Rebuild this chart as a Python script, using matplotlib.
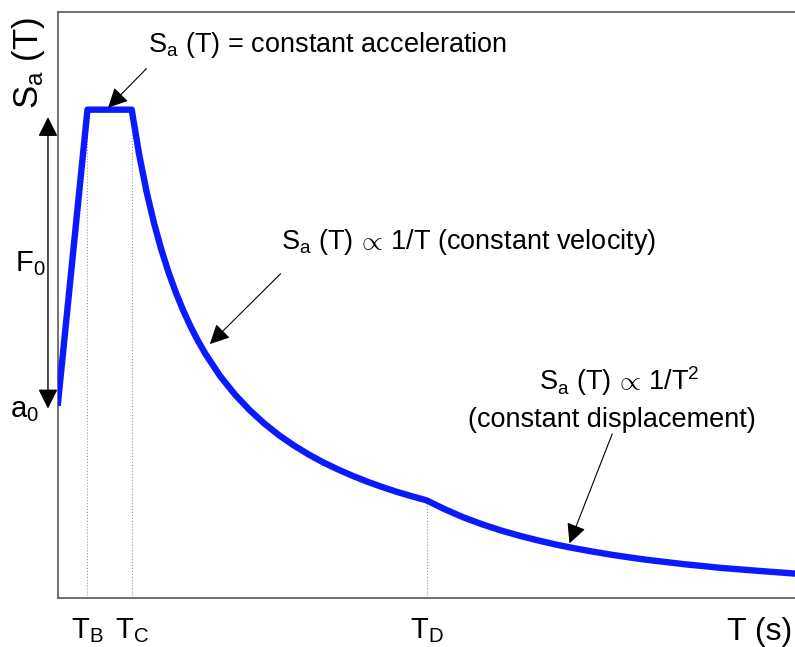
import matplotlib
matplotlib.use("Agg")
import matplotlib.pyplot as plt

plt.rcParams['font.family'] = ['Liberation Sans', 'DejaVu Sans']
plt.rcParams['mathtext.fontset'] = 'custom'
plt.rcParams['mathtext.rm'] = 'Liberation Sans'
plt.rcParams['mathtext.it'] = 'Liberation Sans'

# design spectrum (T in s, Sa in units of a0)
period = [0.0, 0.2, 0.5, 0.55, 0.6, 0.65, 0.7, 0.75, 0.8, 0.85, 0.9, 0.95, 1.0,
          1.1, 1.2, 1.3, 1.4, 1.5, 1.6, 1.7, 1.8, 1.9, 2.0, 2.1, 2.2, 2.3, 2.4, 2.5,
          2.625, 2.75, 2.875, 3.0, 3.125, 3.25, 3.375, 3.5, 3.625, 3.75, 3.875,
          4.0, 4.25, 4.5, 4.75, 5.0]
sa = [1.0, 2.5, 2.5, 2.273, 2.083, 1.923, 1.786, 1.667, 1.563, 1.471, 1.389, 1.316, 1.25,
      1.136, 1.042, 0.962, 0.893, 0.833, 0.781, 0.735, 0.694, 0.658, 0.625, 0.595, 0.568,
      0.543, 0.521, 0.50,
      0.454, 0.413, 0.378, 0.347, 0.32, 0.296, 0.274, 0.255, 0.238, 0.222, 0.208,
      0.195, 0.173, 0.154, 0.139, 0.125]

corner_T = [0.2, 0.5, 2.5]
corner_sa = [2.5, 2.5, 0.5]
corner_labels = [r'$\mathregular{T_B}$', r'$\mathregular{T_C}$', r'$\mathregular{T_D}$']

a0 = 1.0
plateau = 2.5

fig = plt.figure(figsize=(7.95, 6.47), dpi=100)
ax = fig.add_axes([58 / 795, 49 / 647, 737 / 795, 586 / 647])

for t, s in zip(corner_T, corner_sa):
    ax.plot([t, t], [0, s], linestyle=':', color='0.6', lw=0.8, zorder=1)

ax.plot(period, sa, color='#0a1aff', lw=4.6, solid_joinstyle='round', zorder=3)

ax.set_xlim(0, 5.0)
ax.set_ylim(0, 3.0)
ax.set_yticks([])
ax.set_xticks(corner_T)
ax.set_xticklabels(corner_labels, fontsize=21)
ax.tick_params(axis='x', length=0, pad=13)
for sp in ['left', 'bottom', 'top']:
    ax.spines[sp].set_color('0.35')
    ax.spines[sp].set_linewidth(1.2)
ax.spines['right'].set_visible(False)

arr = dict(arrowstyle='-|>', color='black', lw=0.8, mutation_scale=30,
           shrinkA=0, shrinkB=0)
fs = 19.5

ax.annotate('', xy=(0.34, 2.51), xytext=(0.60, 2.71), arrowprops=arr)
ax.text(0.61, 2.83, r'$\mathregular{S_a}$ (T) = constant acceleration',
        fontsize=fs, ha='left', va='center')

ax.annotate('', xy=(1.03, 1.30), xytext=(1.51, 1.66), arrowprops=arr)
ax.text(1.51, 1.82, r'$\mathregular{S_a}$ (T) $\!\propto\!$ 1/T (constant velocity)',
        fontsize=fs, ha='left', va='center')

ax.annotate('', xy=(3.47, 0.28), xytext=(3.76, 0.84), arrowprops=arr)
ax.text(3.81, 1.11, r'$\mathregular{S_a}$ (T) $\!\propto\!$ 1/$\mathregular{T^2}$',
        fontsize=fs, ha='center', va='center')
ax.text(3.76, 0.91, '(constant displacement)', fontsize=fs, ha='center', va='center')

# F0 double arrow outside the left spine
ax.annotate('', xy=(-0.068, 0.97 * a0), xytext=(-0.068, 0.985 * plateau),
            arrowprops=dict(arrowstyle='<|-|>', color='black', lw=1.0,
                            mutation_scale=30, shrinkA=0, shrinkB=0),
            annotation_clip=False)
ax.text(-0.19, 1.71, r'$\mathregular{F_0}$', fontsize=21, ha='center', va='center', clip_on=False)
ax.text(-0.225, 0.96, r'$\mathregular{a_0}$', fontsize=21, ha='center', va='center', clip_on=False)

ax.text(-0.2, 2.74, r'$\mathregular{S_a}$ (T)', fontsize=25, rotation=90,
        ha='center', va='center', clip_on=False)
fig.text(0.997, 1 - 632 / 647, 'T (s)', fontsize=23, ha='right', va='center')

fig.savefig('out.png', dpi=100)
